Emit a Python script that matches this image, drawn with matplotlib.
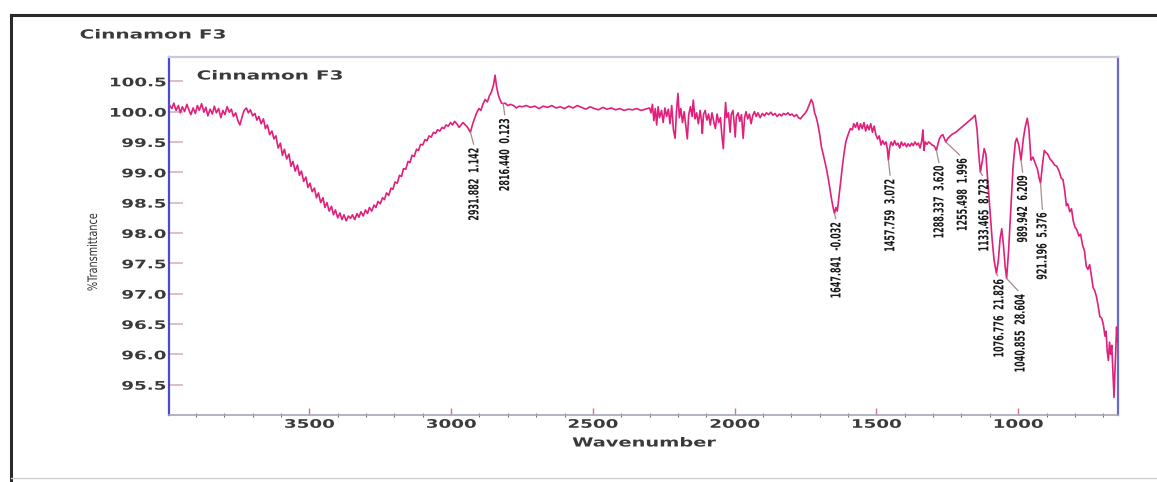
import matplotlib
matplotlib.use('Agg')
import matplotlib.pyplot as plt
from matplotlib.patheffects import AbstractPathEffect
from matplotlib.transforms import Affine2D
from matplotlib.lines import Line2D

# spectrum (wavenumber, %T)
wavenumber = [
    3995, 3985, 3978, 3970, 3962, 3955, 3948, 3940, 3932, 3925, 3918, 3910, 3902, 3895, 3888, 3880,
    3872, 3865, 3858, 3850, 3842, 3835, 3828, 3820, 3812, 3805, 3798, 3790, 3782, 3775, 3768, 3760,
    3752, 3745, 3738, 3730, 3722, 3715, 3708, 3700, 3692, 3685, 3678, 3670, 3662, 3655, 3648, 3640,
    3632, 3625, 3618, 3610, 3602, 3595, 3588, 3580, 3572, 3565, 3558, 3550, 3542, 3535, 3528, 3520,
    3512, 3505, 3498, 3490, 3482, 3475, 3468, 3460, 3452, 3445, 3438, 3430, 3422, 3415, 3408, 3400,
    3392, 3385, 3378, 3370, 3362, 3355, 3348, 3340, 3332, 3325, 3318, 3310, 3302, 3295, 3288, 3280,
    3272, 3265, 3258, 3250, 3242, 3235, 3228, 3220, 3212, 3205, 3198, 3190, 3182, 3175, 3168, 3160,
    3152, 3145, 3138, 3130, 3122, 3115, 3108, 3100, 3092, 3085, 3078, 3070, 3062, 3055, 3048, 3040,
    3032, 3025, 3018, 3010, 3002, 2995, 2988, 2980, 2972, 2965, 2958, 2950, 2942, 2931.882, 2925, 2918,
    2910, 2902, 2895, 2888, 2880, 2872, 2865, 2858, 2850, 2845, 2840, 2834, 2828, 2822, 2816.44, 2810,
    2800, 2790, 2780, 2770, 2760, 2750, 2735, 2720, 2705, 2690, 2675, 2660, 2645, 2630, 2615, 2600,
    2585, 2570, 2555, 2540, 2525, 2510, 2495, 2480, 2465, 2450, 2435, 2420, 2405, 2390, 2375, 2360,
    2345, 2330, 2315, 2300, 2295, 2290, 2285, 2280, 2275, 2270, 2265, 2258, 2252, 2246, 2240, 2234,
    2228, 2222, 2216, 2210, 2205, 2200, 2195, 2190, 2184, 2178, 2172, 2167, 2162, 2156, 2150, 2146,
    2140, 2134, 2128, 2122, 2117, 2114, 2110, 2104, 2098, 2092, 2086, 2080, 2074, 2068, 2062, 2056,
    2050, 2045, 2040, 2036, 2032, 2028, 2022, 2016, 2012, 2006, 2002, 1998, 1994, 1988, 1982, 1976,
    1970, 1965, 1960, 1954, 1948, 1942, 1936, 1930, 1924, 1918, 1910, 1902, 1895, 1888, 1880, 1872,
    1865, 1858, 1850, 1842, 1835, 1828, 1820, 1812, 1805, 1798, 1790, 1782, 1775, 1768, 1760, 1752,
    1745, 1738, 1730, 1724, 1718, 1712, 1706, 1700, 1694, 1688, 1682, 1676, 1670, 1664, 1658, 1652,
    1647.841, 1643, 1638, 1632, 1626, 1620, 1614, 1608, 1600, 1592, 1585, 1580, 1574, 1568, 1562, 1556,
    1550, 1544, 1538, 1532, 1526, 1520, 1514, 1508, 1502, 1496, 1490, 1484, 1478, 1472, 1466, 1462,
    1457.759, 1453, 1448, 1442, 1436, 1430, 1424, 1418, 1412, 1406, 1400, 1394, 1388, 1382, 1376, 1370,
    1364, 1358, 1352, 1346, 1340, 1336, 1332, 1328, 1322, 1316, 1310, 1304, 1298, 1292, 1288.337, 1284,
    1278, 1272, 1266, 1260, 1255.498, 1248, 1235, 1220, 1205, 1190, 1175, 1160, 1152, 1145, 1140, 1133.465,
    1126, 1120, 1114, 1108, 1100, 1092, 1085, 1076.776, 1070, 1064, 1058, 1052, 1046, 1040.855, 1034, 1026,
    1018, 1010, 1005, 998, 989.942, 982, 975, 968, 962, 955, 948, 940, 932, 926, 921.196, 915,
    908, 903, 896, 888, 880, 872, 864, 856, 848, 842, 836, 830, 825, 818, 812, 806,
    800, 793, 786, 780, 773, 766, 760, 754, 748, 742, 736, 730, 724, 718, 712, 706,
    700, 694, 690, 686, 682, 678, 674, 670, 666, 662, 659, 656, 653, 650, 648,
]
transmittance = [
    100.12, 100.05, 100.14, 100.02, 100.10, 99.98, 100.08, 100.00, 100.12, 100.03, 99.95, 100.06, 99.97, 100.10, 100.02, 100.13,
    99.99, 100.07, 99.93, 100.04, 99.96, 100.09, 99.98, 100.05, 99.90, 100.02, 99.95, 100.08, 99.99, 100.04, 99.92, 99.98,
    99.85, 99.78, 99.90, 100.02, 100.06, 99.98, 100.03, 99.93, 99.97, 99.86, 99.92, 99.80, 99.88, 99.72, 99.78, 99.62,
    99.68, 99.55, 99.60, 99.40, 99.48, 99.28, 99.38, 99.22, 99.30, 99.10, 99.18, 99.02, 99.12, 98.95, 99.02, 98.85,
    98.92, 98.75, 98.82, 98.68, 98.74, 98.58, 98.66, 98.50, 98.58, 98.42, 98.50, 98.36, 98.44, 98.30, 98.38, 98.25,
    98.33, 98.22, 98.30, 98.20, 98.28, 98.24, 98.30, 98.22, 98.32, 98.26, 98.35, 98.28, 98.38, 98.32, 98.42, 98.36,
    98.46, 98.42, 98.52, 98.48, 98.58, 98.55, 98.66, 98.62, 98.74, 98.72, 98.84, 98.82, 98.95, 98.93, 99.06, 99.05,
    99.18, 99.16, 99.28, 99.26, 99.38, 99.36, 99.46, 99.45, 99.54, 99.52, 99.60, 99.58, 99.66, 99.64, 99.70, 99.68,
    99.74, 99.72, 99.78, 99.76, 99.82, 99.78, 99.84, 99.80, 99.74, 99.78, 99.82, 99.78, 99.74, 99.66, 99.78, 99.88,
    99.98, 100.05, 100.02, 100.12, 100.20, 100.16, 100.26, 100.32, 100.45, 100.60, 100.42, 100.28, 100.20, 100.14, 100.13, 100.14,
    100.10, 100.12, 100.10, 100.06, 100.09, 100.08, 100.10, 100.07, 100.09, 100.05, 100.09, 100.07, 100.10, 100.06, 100.08, 100.05,
    100.09, 100.06, 100.10, 100.07, 100.04, 100.08, 100.05, 100.03, 100.07, 100.04, 100.06, 100.03, 100.05, 100.02, 100.04, 100.03,
    100.05, 100.02, 100.04, 100.06, 99.98, 100.12, 99.85, 100.05, 99.78, 100.08, 99.90, 100.02, 99.82, 100.06, 99.92, 100.04,
    99.80, 100.10, 99.70, 99.56, 100.02, 100.30, 99.90, 100.05, 99.82, 100.00, 99.75, 99.55, 99.95, 100.08, 99.92, 100.19,
    99.88, 99.98, 99.80, 100.02, 99.85, 99.64, 99.95, 100.02, 99.86, 99.96, 99.78, 99.98, 99.84, 99.72, 99.96, 99.82,
    99.90, 99.60, 99.39, 99.80, 100.15, 99.90, 99.98, 99.66, 99.95, 100.02, 99.82, 99.58, 99.92, 99.98, 99.84, 99.95,
    99.56, 99.90, 100.00, 99.88, 99.96, 99.80, 99.94, 100.00, 99.92, 99.98, 99.90, 99.97, 99.93, 99.98, 99.95, 99.99,
    99.94, 99.97, 99.92, 99.96, 99.93, 99.97, 99.95, 99.98, 99.94, 99.96, 99.92, 99.95, 99.90, 99.88, 99.93, 99.97,
    100.02, 100.10, 100.20, 100.14, 99.98, 99.90, 99.78, 99.62, 99.42, 99.30, 99.18, 99.05, 98.90, 98.72, 98.55, 98.40,
    98.32, 98.42, 98.36, 98.60, 98.85, 99.10, 99.32, 99.50, 99.62, 99.72, 99.70, 99.80, 99.74, 99.82, 99.70, 99.80,
    99.72, 99.82, 99.68, 99.78, 99.70, 99.80, 99.66, 99.76, 99.62, 99.55, 99.60, 99.45, 99.52, 99.46, 99.50, 99.40,
    99.20, 99.42, 99.50, 99.44, 99.52, 99.45, 99.48, 99.40, 99.50, 99.44, 99.48, 99.42, 99.47, 99.43, 99.48, 99.44,
    99.50, 99.45, 99.48, 99.40, 99.52, 99.70, 99.36, 99.50, 99.46, 99.50, 99.48, 99.45, 99.44, 99.40, 99.36, 99.45,
    99.55, 99.60, 99.62, 99.55, 99.50, 99.56, 99.62, 99.66, 99.72, 99.78, 99.84, 99.90, 99.94, 99.70, 99.35, 99.00,
    99.20, 99.39, 99.30, 98.90, 98.40, 97.90, 97.55, 97.33, 97.55, 97.90, 98.07, 97.80, 97.45, 97.25, 97.70, 98.40,
    99.10, 99.50, 99.56, 99.45, 99.20, 99.55, 99.75, 99.89, 99.70, 99.20, 99.25, 99.15, 99.05, 98.90, 98.82, 99.10,
    99.36, 99.33, 99.30, 99.22, 99.18, 99.12, 99.10, 99.02, 98.90, 98.88, 98.70, 98.45, 98.48, 98.35, 98.40, 98.20,
    98.10, 98.05, 97.95, 97.98, 97.80, 97.70, 97.45, 97.40, 97.48, 97.30, 97.10, 97.05, 96.95, 96.80, 96.62, 96.60,
    96.50, 96.30, 96.38, 96.05, 95.90, 96.20, 96.00, 96.15, 95.70, 95.29, 95.70, 96.05, 96.45, 96.20, 96.40,
]

# peak labels: position, text, leader offset (px) from the peak to the text top
peak_wn = [2931.882, 2816.44, 1647.841, 1457.759, 1288.337, 1255.498, 1133.465, 1076.776, 1040.855, 989.942, 921.196]
peak_t = [99.66, 100.13, 98.32, 99.20, 99.36, 99.50, 99.00, 97.33, 97.25, 99.20, 98.82]
peak_labels = ['2931.882  1.142', '2816.440  0.123', '1647.841  -0.032', '1457.759  3.072',
               '1288.337  3.620', '1255.498  1.996', '1133.465  8.723', '1076.776  21.826',
               '1040.855  28.604', '989.942  6.209', '921.196  5.376']
peak_dx = [4, 2, 2, 2, 3, 17, 4, 3, 14, 2, 2]
peak_dy = [-15, -14, -8, -18, -15, -16, -6, -5, -15, -15, -29]

yticks = [95.5, 96.0, 96.5, 97.0, 97.5, 98.0, 98.5, 99.0, 99.5, 100.0, 100.5]
xticks = [3500, 3000, 2500, 2000, 1500, 1000]
xminor = list(range(3900, 600, -100))


class Stretch(AbstractPathEffect):
    # scale the glyph outlines about an anchor of their own extent
    def __init__(self, sx=1.0, sy=1.0, ax=0.5, ay=0.5):
        super().__init__()
        self.sx, self.sy, self.ax, self.ay = sx, sy, ax, ay

    def draw_path(self, renderer, gc, tpath, affine, rgbFace=None):
        ext = affine.transform_path(tpath).get_extents()
        px = ext.x0 + self.ax * ext.width
        py = ext.y0 + self.ay * ext.height
        t = affine + Affine2D().translate(-px, -py).scale(self.sx, self.sy).translate(px, py)
        renderer.draw_path(gc, tpath, t, rgbFace)


W, H = 1157, 482
fig = plt.figure(figsize=(W / 100, H / 100), dpi=100)
ax = fig.add_axes([169 / W, 1 - 415 / H, (1118 - 169) / W, (415 - 57) / H])

ax.plot(wavenumber, transmittance, color='#e0207a', lw=1.2, zorder=3)

ax.set_xlim(3995, 648)
ax.set_ylim(95.0, 100.9)

ax.set_yticks(yticks)
ax.set_yticklabels(['%.1f' % v for v in yticks])
ax.set_xticks(xticks)
ax.set_xticklabels([str(v) for v in xticks])
ax.set_xticks(xminor, minor=True)

ax.tick_params(axis='y', direction='in', length=10, width=1.2, color='#d8b4bf', pad=2,
               labelsize=8.5, labelcolor='#3a3a3a')
ax.tick_params(axis='x', which='major', direction='in', length=5, width=1, color='#d87090',
               pad=2, labelsize=8.5, labelcolor='#3a3a3a')
ax.tick_params(axis='x', which='minor', direction='inout', length=3, width=0.8, color='#707070')

for lab in ax.get_yticklabels():
    lab.set_fontweight('bold')
    lab.set_path_effects([Stretch(sx=1.55, ax=1.0)])
for lab in ax.get_xticklabels():
    lab.set_fontweight('bold')
    lab.set_path_effects([Stretch(sx=1.55, ax=0.5)])

ax.spines['left'].set_color('#4a4ad0')
ax.spines['left'].set_linewidth(1.6)
ax.spines['right'].set_color('#6a6ac4')
ax.spines['right'].set_linewidth(1.6)
ax.spines['top'].set_color('#c9c9de')
ax.spines['top'].set_linewidth(1.6)
ax.spines['bottom'].set_color('#a6a6b8')
ax.spines['bottom'].set_linewidth(1.2)

# peak labels with leader lines
for wn, t, lab, dx, dy in zip(peak_wn, peak_t, peak_labels, peak_dx, peak_dy):
    ax.annotate(lab, xy=(wn, t), xytext=(dx, dy), textcoords='offset pixels',
                rotation=90, ha='center', va='top', fontsize=9, fontweight='bold',
                color='#1a1a1a',
                path_effects=[Stretch(sx=1.1, sy=0.64, ax=0.5, ay=1.0)],
                arrowprops=dict(arrowstyle='-', color='#a88a8a', lw=0.9,
                                shrinkA=0, shrinkB=0, relpos=(0.5, 1.0)),
                zorder=4)

# titles and axis labels
fig.text(80 / W, 1 - 35 / H, 'Cinnamon F3', ha='left', va='center', fontsize=9,
         fontweight='bold', color='#3a3a3a', path_effects=[Stretch(sx=1.6, ax=0.0)])
fig.text(197 / W, 1 - 76 / H, 'Cinnamon F3', ha='left', va='center', fontsize=9,
         fontweight='bold', color='#3a3a3a', path_effects=[Stretch(sx=1.6, ax=0.0)])
fig.text(644 / W, 1 - 443 / H, 'Wavenumber', ha='center', va='center', fontsize=9,
         fontweight='bold', color='#3a3a3a', path_effects=[Stretch(sx=1.55, ax=0.5)])
fig.text(93 / W, 1 - 252 / H, '%Transmittance', ha='center', va='center', rotation=90,
         fontsize=8.5, color='#303030', path_effects=[Stretch(sx=1.1, sy=0.82)])

# outer frame of the screenshot
fig.add_artist(Line2D([11 / W, 1.0], [1 - 15 / H, 1 - 15 / H], color='#2a2a2a', lw=2.2,
                      transform=fig.transFigure))
fig.add_artist(Line2D([11 / W, 11 / W], [1 - 15 / H, 0.0], color='#2a2a2a', lw=2.2,
                      transform=fig.transFigure))
fig.add_artist(Line2D([11 / W, 1.0], [1 - 478 / H, 1 - 478 / H], color='#d0d0d0', lw=1.0,
                      transform=fig.transFigure))

fig.savefig('out.png', dpi=100)
